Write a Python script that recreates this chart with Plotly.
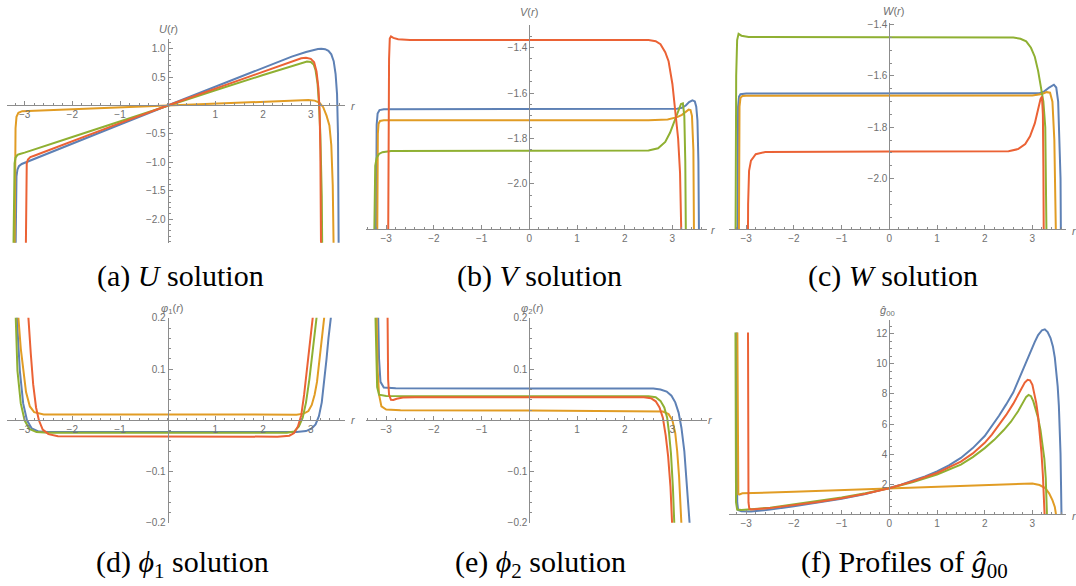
import plotly.graph_objects as go

W, H = 1076, 586
BLUE, ORANGE, GREEN, RED = "#5E81B5", "#E19C24", "#8FB032", "#EB6235"
AXC = "#8c8c8c"
LBC = "#707070"

# ---------------- data: (a) U(r) ----------------
U_blue_r = [-3.19, -3.182, -3.17, -3.15, -3.12, -3.06, -3.0, -2.0, -1.0, 0.0, 1.0, 2.0, 2.6, 2.9, 3.05, 3.15, 3.22, 3.3, 3.37, 3.43, 3.48, 3.52, 3.55, 3.57, 3.585]
U_blue = [-2.6, -1.6, -1.25, -1.13, -1.07, -1.03, -1.01, -0.67, -0.335, 0.0, 0.33, 0.66, 0.86, 0.94, 0.975, 0.995, 1.0, 0.99, 0.96, 0.9, 0.78, 0.55, 0.2, -0.5, -2.6]
U_orange_r = [-3.21, -3.2, -3.19, -3.17, -3.13, -3.05, -2.0, -1.0, 0.0, 1.0, 2.0, 2.8, 2.95, 3.08, 3.18, 3.26, 3.33, 3.39, 3.43, 3.46, 3.48]
U_orange = [-2.6, -1.0, -0.4, -0.2, -0.13, -0.1, -0.065, -0.033, 0.0, 0.033, 0.066, 0.092, 0.095, 0.085, 0.05, -0.03, -0.18, -0.35, -0.7, -1.4, -2.6]
U_green_r = [-3.235, -3.225, -3.21, -3.19, -3.15, -3.1, -3.0, -2.0, -1.0, 0.0, 1.0, 2.0, 2.6, 2.8, 2.92, 3.0, 3.06, 3.1, 3.14, 3.17, 3.2, 3.23, 3.24]
U_green = [-2.6, -1.5, -1.02, -0.92, -0.87, -0.855, -0.83, -0.555, -0.278, 0.0, 0.268, 0.535, 0.7, 0.75, 0.775, 0.765, 0.72, 0.62, 0.4, 0.05, -0.5, -1.6, -2.6]
U_red_r = [-2.975, -2.968, -2.955, -2.93, -2.88, -2.8, -2.0, -1.0, 0.0, 1.0, 2.0, 2.6, 2.8, 2.9, 3.0, 3.07, 3.12, 3.16, 3.185, 3.2, 3.215]
U_red = [-2.6, -1.5, -1.02, -0.95, -0.91, -0.885, -0.625, -0.31, 0.0, 0.3, 0.6, 0.78, 0.83, 0.84, 0.82, 0.76, 0.6, 0.3, -0.1, -0.8, -2.6]

# ---------------- data: (b) V(r) ----------------
V_blue_r = [-3.215, -3.21, -3.2, -3.18, -3.14, -3.05, -2.5, 0.0, 2.5, 2.9, 3.1, 3.2, 3.28, 3.35, 3.42, 3.47, 3.5, 3.525, 3.545, 3.56]
V_blue = [-2.3, -1.95, -1.74, -1.69, -1.675, -1.671, -1.671, -1.671, -1.671, -1.671, -1.669, -1.665, -1.655, -1.64, -1.632, -1.637, -1.66, -1.72, -1.9, -2.3]
V_orange_r = [-3.19, -3.185, -3.175, -3.16, -3.13, -3.05, -2.5, 0.0, 2.5, 2.9, 3.1, 3.2, 3.28, 3.34, 3.38, 3.41, 3.44, 3.455]
V_orange = [-2.3, -1.95, -1.78, -1.735, -1.723, -1.72, -1.72, -1.72, -1.72, -1.716, -1.706, -1.696, -1.683, -1.673, -1.675, -1.7, -1.85, -2.3]
V_green_r = [-3.255, -3.245, -3.23, -3.2, -3.15, -3.08, -2.9, 0.0, 2.5, 2.7, 2.85, 2.95, 3.05, 3.12, 3.18, 3.22, 3.25, 3.27, 3.285]
V_green = [-2.3, -2.0, -1.92, -1.885, -1.868, -1.86, -1.855, -1.854, -1.853, -1.843, -1.815, -1.775, -1.72, -1.675, -1.648, -1.645, -1.7, -1.9, -2.3]
V_red_r = [-2.96, -2.952, -2.94, -2.925, -2.9, -2.85, -2.75, -2.5, 0.0, 2.5, 2.65, 2.75, 2.85, 2.92, 3.0, 3.06, 3.12, 3.16, 3.195]
V_red = [-2.3, -1.8, -1.45, -1.36, -1.351, -1.357, -1.363, -1.366, -1.366, -1.367, -1.372, -1.385, -1.42, -1.46, -1.56, -1.67, -1.8, -1.95, -2.3]

# ---------------- data: (c) W(r) ----------------
W_blue_r = [-3.185, -3.18, -3.17, -3.15, -3.12, -3.0, 0.0, 3.0, 3.15, 3.25, 3.35, 3.45, 3.5, 3.54, 3.57, 3.59, 3.6]
W_blue = [-2.3, -1.9, -1.72, -1.68, -1.671, -1.668, -1.668, -1.668, -1.667, -1.66, -1.645, -1.634, -1.645, -1.7, -1.85, -2.0, -2.3]
W_orange_r = [-3.155, -3.15, -3.14, -3.12, -3.08, -3.0, 0.0, 3.0, 3.2, 3.3, 3.37, 3.42, 3.46, 3.48, 3.5]
W_orange = [-2.3, -1.9, -1.72, -1.685, -1.678, -1.677, -1.677, -1.676, -1.67, -1.663, -1.665, -1.7, -1.85, -2.0, -2.3]
W_green_r = [-3.225, -3.22, -3.21, -3.19, -3.16, -3.1, -2.95, 0.0, 2.6, 2.75, 2.87, 2.97, 3.05, 3.12, 3.18, 3.23, 3.27, 3.29, 3.3]
W_green = [-2.3, -1.9, -1.6, -1.46, -1.436, -1.443, -1.448, -1.449, -1.45, -1.455, -1.465, -1.49, -1.525, -1.58, -1.64, -1.7, -1.8, -2.0, -2.3]
W_red_r = [-2.965, -2.96, -2.94, -2.9, -2.8, -2.6, 0.0, 2.5, 2.7, 2.85, 2.95, 3.05, 3.12, 3.17, 3.2, 3.22, 3.23, 3.24]
W_red = [-2.3, -2.1, -1.97, -1.93, -1.905, -1.896, -1.894, -1.893, -1.885, -1.865, -1.835, -1.785, -1.73, -1.69, -1.68, -1.75, -1.95, -2.3]

# ---------------- data: (d) phi1(r) ----------------
P1_blue_r = [-3.19, -3.15, -3.1, -3.03, -2.95, -2.85, -2.7, -2.5, 0.0, 2.7, 2.9, 3.02, 3.1, 3.17, 3.23, 3.28, 3.33, 3.37, 3.42, 3.45]
P1_blue = [0.3, 0.18, 0.097, 0.033, 0.0, -0.016, -0.022, -0.023, -0.023, -0.023, -0.021, -0.016, -0.008, 0.008, 0.035, 0.075, 0.12, 0.16, 0.2, 0.3]
P1_orange_r = [-3.16, -3.13, -3.08, -3.03, -2.97, -2.89, -2.8, -2.6, 0.0, 2.7, 2.85, 2.95, 3.02, 3.08, 3.13, 3.18, 3.23, 3.28, 3.32]
P1_orange = [0.3, 0.2, 0.14, 0.097, 0.055, 0.027, 0.016, 0.0115, 0.011, 0.011, 0.013, 0.018, 0.03, 0.05, 0.075, 0.115, 0.16, 0.2, 0.3]
P1_green_r = [-3.22, -3.19, -3.15, -3.08, -3.0, -2.9, -2.75, -2.5, 0.0, 2.5, 2.65, 2.75, 2.83, 2.9, 2.97, 3.03, 3.08, 3.12, 3.16]
P1_green = [0.3, 0.2, 0.097, 0.033, 0.0, -0.017, -0.023, -0.0243, -0.0243, -0.0243, -0.022, -0.012, 0.005, 0.035, 0.08, 0.13, 0.17, 0.2, 0.3]
P1_red_r = [-2.95, -2.92, -2.87, -2.82, -2.76, -2.7, -2.62, -2.5, -2.3, 0.0, 2.3, 2.55, 2.65, 2.73, 2.8, 2.86, 2.92, 2.98, 3.04, 3.08]
P1_red = [0.3, 0.2, 0.13, 0.07, 0.025, 0.0, -0.018, -0.027, -0.031, -0.032, -0.032, -0.03, -0.025, -0.012, 0.01, 0.05, 0.1, 0.15, 0.2, 0.3]

# ---------------- data: (e) phi2(r) ----------------
P2_blue_r = [-3.19, -3.17, -3.15, -3.12, -3.05, -2.8, 0.0, 2.6, 2.75, 2.88, 2.98, 3.06, 3.13, 3.19, 3.25, 3.31, 3.36, 3.4]
P2_blue = [0.3, 0.2, 0.12, 0.075, 0.064, 0.0625, 0.0622, 0.062, 0.06, 0.056, 0.048, 0.035, 0.015, -0.015, -0.06, -0.13, -0.2, -0.3]
P2_orange_r = [-3.22, -3.2, -3.18, -3.15, -3.1, -3.0, -2.7, 0.0, 2.6, 2.8, 2.92, 3.0, 3.06, 3.1, 3.14, 3.18, 3.21, 3.24]
P2_orange = [0.3, 0.2, 0.1, 0.05, 0.027, 0.021, 0.0195, 0.019, 0.0185, 0.017, 0.012, 0.0, -0.025, -0.06, -0.11, -0.16, -0.2, -0.3]
P2_green_r = [-3.25, -3.23, -3.21, -3.19, -3.15, -3.0, 0.0, 2.5, 2.65, 2.75, 2.83, 2.89, 2.93, 2.97, 3.01, 3.05, 3.08]
P2_green = [0.3, 0.2, 0.1, 0.065, 0.05, 0.0475, 0.047, 0.047, 0.045, 0.038, 0.025, 0.005, -0.025, -0.065, -0.13, -0.2, -0.3]
P2_red_r = [-2.98, -2.97, -2.96, -2.94, -2.9, -2.85, -2.78, -2.65, -2.4, 0.0, 2.4, 2.55, 2.65, 2.73, 2.8, 2.86, 2.91, 2.96, 3.01, 3.04]
P2_red = [0.3, 0.15, 0.08, 0.05, 0.04, 0.0395, 0.042, 0.0445, 0.045, 0.045, 0.045, 0.043, 0.037, 0.025, 0.005, -0.03, -0.07, -0.13, -0.2, -0.3]

# ---------------- data: (f) g00 hat ----------------
G_blue_r = [-3.2, -3.195, -3.188, -3.17, -3.1, -2.9, -2.5, -2.0, -1.5, -1.0, -0.5, 0.0, 0.25, 0.5, 0.75, 1.0, 1.25, 1.5, 1.75, 2.0, 2.15, 2.3, 2.45, 2.6, 2.72, 2.85, 2.95, 3.05, 3.12, 3.2, 3.26, 3.32, 3.38, 3.43, 3.47, 3.5, 3.53, 3.555, 3.575, 3.59, 3.6, 3.607, 3.612]
G_blue = [12.07, 4.0, 0.8, 0.3, 0.22, 0.2, 0.32, 0.55, 0.78, 1.04, 1.35, 1.74, 1.98, 2.25, 2.52, 2.85, 3.25, 3.75, 4.4, 5.2, 5.85, 6.55, 7.3, 8.1, 9.0, 10.0, 10.75, 11.45, 11.9, 12.22, 12.28, 12.1, 11.7, 11.15, 10.4, 9.6, 8.5, 7.2, 5.6, 4.0, 2.0, 0.5, -0.5]
G_orange_r = [-3.185, -3.18, -3.175, -3.165, -3.14, -3.08, -2.0, -1.0, 0.0, 1.0, 2.0, 2.8, 3.0, 3.15, 3.27, 3.35, 3.42, 3.47, 3.5, 3.52]
G_orange = [12.07, 4.0, 1.8, 1.35, 1.33, 1.4, 1.5, 1.61, 1.72, 1.83, 1.95, 2.06, 2.05, 1.95, 1.75, 1.4, 0.95, 0.5, 0.05, -0.5]
G_green_r = [-3.225, -3.22, -3.213, -3.19, -3.1, -2.5, -2.0, -1.5, -1.0, -0.5, 0.0, 0.5, 1.0, 1.5, 1.75, 2.0, 2.2, 2.4, 2.55, 2.7, 2.8, 2.87, 2.92, 2.97, 3.02, 3.07, 3.12, 3.17, 3.21, 3.25, 3.28, 3.3, 3.31]
G_green = [12.07, 4.0, 0.8, 0.33, 0.3, 0.45, 0.68, 0.88, 1.12, 1.4, 1.74, 2.15, 2.65, 3.3, 3.8, 4.4, 4.95, 5.6, 6.15, 6.85, 7.4, 7.8, 7.93, 7.85, 7.5, 7.0, 6.4, 5.6, 4.8, 3.7, 2.4, 1.0, -0.5]
G_red_r = [-2.962, -2.958, -2.952, -2.935, -2.9, -2.5, -2.0, -1.5, -1.0, -0.5, 0.0, 0.5, 1.0, 1.5, 1.75, 2.0, 2.15, 2.3, 2.45, 2.6, 2.7, 2.78, 2.84, 2.9, 2.95, 3.0, 3.04, 3.08, 3.12, 3.16, 3.19, 3.22, 3.24, 3.255, 3.262]
G_red = [12.07, 4.0, 0.8, 0.38, 0.33, 0.42, 0.62, 0.83, 1.08, 1.38, 1.74, 2.2, 2.75, 3.5, 4.05, 4.75, 5.3, 5.95, 6.6, 7.35, 7.9, 8.4, 8.75, 8.93, 8.9, 8.6, 8.1, 7.4, 6.5, 5.3, 4.1, 2.6, 1.3, 0.2, -0.5]

# tick labels
X_TICKS_NO0 = [-3, -2, -1, 1, 2, 3]
X_TICKS_ALL = [-3, -2, -1, 0, 1, 2, 3]
U_TICKS = [-2.0, -1.5, -1.0, -0.5, 0.5, 1.0]
VW_TICKS = [-2.0, -1.8, -1.6, -1.4]
PHI_TICKS = [-0.2, -0.1, 0.1, 0.2]
G_TICKS = [2, 4, 6, 8, 10, 12]


def fmt(v, nd):
    s = f"{abs(v):.{nd}f}"
    return ("\u2212" + s) if v < 0 else s


panels = [
    dict(series=[(U_blue_r, U_blue), (U_orange_r, U_orange), (U_green_r, U_green), (U_red_r, U_red)],
         xpx=(7, 345), ypx=(35, 242), x0px=167.7, xs=47.7, y0px=102.2, ys=57.8, ycross=0.0,
         xt=X_TICKS_NO0, yt=U_TICKS, ynd=1, xminor=0.2, yminor=0.1,
         ylab="<i>U</i>(<i>r</i>)", ylabpos=(168, 24), rpos=(353, 103),
         cap="(a) <i>U</i> solution", cappos=(181, 276)),
    dict(series=[(V_blue_r, V_blue), (V_orange_r, V_orange), (V_green_r, V_green), (V_red_r, V_red)],
         xpx=(366, 706.7), ypx=(20.7, 228.3), x0px=529.3, xs=47.7, yr=(-2.2, -1.302), ycross=None,
         xt=X_TICKS_ALL, yt=VW_TICKS, ynd=1, xminor=0.2, yminor=0.05,
         ylab="<i>V</i>(<i>r</i>)", ylabpos=(529, 7), rpos=(713, 229),
         cap="(b) <i>V</i> solution", cappos=(539, 276)),
    dict(series=[(W_blue_r, W_blue), (W_orange_r, W_orange), (W_green_r, W_green), (W_red_r, W_red)],
         xpx=(729.3, 1066), ypx=(18.3, 228.3), x0px=889.3, xs=47.7, yr=(-2.198, -1.3935), ycross=None,
         xt=X_TICKS_ALL, yt=VW_TICKS, ynd=1, xminor=0.2, yminor=0.05,
         ylab="<i>W</i>(<i>r</i>)", ylabpos=(893, 6), rpos=(1074, 230),
         cap="(c) <i>W</i> solution", cappos=(893, 276)),
    dict(series=[(P1_blue_r, P1_blue), (P1_orange_r, P1_orange), (P1_green_r, P1_green), (P1_red_r, P1_red)],
         xpx=(7, 345), ypx=(318.3, 526.7), x0px=167.7, xs=47.7, yr=(-0.2, 0.2), ycross=0.0,
         xt=X_TICKS_NO0, yt=PHI_TICKS, ynd=1, xminor=0.2, yminor=0.02,
         ylab="<i>φ</i><sub>1</sub>(<i>r</i>)", ylabpos=(172, 309), rpos=(353, 422),
         cap="(d) <i>ϕ</i><sub>1</sub> solution", cappos=(182, 569)),
    dict(series=[(P2_blue_r, P2_blue), (P2_orange_r, P2_orange), (P2_green_r, P2_green), (P2_red_r, P2_red)],
         xpx=(366, 706.7), ypx=(318.3, 526.7), x0px=529.3, xs=47.7, yr=(-0.2, 0.2), ycross=0.0,
         xt=X_TICKS_NO0, yt=PHI_TICKS, ynd=1, xminor=0.2, yminor=0.02,
         ylab="<i>φ</i><sub>2</sub>(<i>r</i>)", ylabpos=(532, 309), rpos=(710, 422),
         cap="(e) <i>ϕ</i><sub>2</sub> solution", cappos=(540, 569)),
    dict(series=[(G_blue_r, G_blue), (G_orange_r, G_orange), (G_green_r, G_green), (G_red_r, G_red)],
         xpx=(729.3, 1066), ypx=(320, 518.3), x0px=889.3, xs=47.7, yr=(0.0, 12.93), ycross=0.0,
         xt=X_TICKS_ALL, yt=G_TICKS, ynd=0, xminor=0.2, yminor=0.5,
         ylab="<i>ĝ</i><sub>00</sub>", ylabpos=(887, 311), rpos=(1074, 520),
         cap="(f) Profiles of <i>ĝ</i><sub>00</sub>", cappos=(904, 569)),
]

COLORS = [BLUE, ORANGE, GREEN, RED]

fig = go.Figure()
annotations = []
layout_axes = {}

for i, p in enumerate(panels, start=1):
    xr = ((p["xpx"][0] - p["x0px"]) / p["xs"], (p["xpx"][1] - p["x0px"]) / p["xs"])
    if "yr" in p:
        yr = p["yr"]
    else:
        yr = ((p["y0px"] - p["ypx"][1]) / p["ys"], (p["y0px"] - p["ypx"][0]) / p["ys"])
    xd = [p["xpx"][0] / W, p["xpx"][1] / W]
    yd = [1 - p["ypx"][1] / H, 1 - p["ypx"][0] / H]
    yc = yr[0] if p["ycross"] is None else p["ycross"]
    xpos = yd[0] + (yc - yr[0]) / (yr[1] - yr[0]) * (yd[1] - yd[0])
    ypos = xd[0] + (0 - xr[0]) / (xr[1] - xr[0]) * (xd[1] - xd[0])

    xa = "x" if i == 1 else f"x{i}"
    ya = "y" if i == 1 else f"y{i}"
    for (rs, vs), c in zip(p["series"], COLORS):
        fig.add_trace(go.Scatter(x=rs, y=vs, mode="lines", line=dict(color=c, width=2),
                                 xaxis=xa, yaxis=ya, showlegend=False, hoverinfo="skip"))

    common = dict(showline=True, linecolor=AXC, linewidth=1, ticks="inside", ticklen=4,
                  tickcolor=AXC, tickwidth=1, showgrid=False, zeroline=False,
                  tickfont=dict(family="Liberation Sans, Arial, sans-serif", size=10, color=LBC),
                  anchor="free", fixedrange=True, tickmode="array")
    layout_axes["xaxis" if i == 1 else f"xaxis{i}"] = dict(
        common, domain=xd, range=list(xr), position=xpos,
        tickvals=p["xt"], ticktext=[fmt(v, 0) for v in p["xt"]],
        minor=dict(ticks="inside", ticklen=2, tickcolor=AXC, tickwidth=1, dtick=p["xminor"], tick0=0, showgrid=False))
    layout_axes["yaxis" if i == 1 else f"yaxis{i}"] = dict(
        common, domain=yd, range=list(yr), position=ypos,
        tickvals=p["yt"], ticktext=[fmt(v, p["ynd"]) for v in p["yt"]],
        minor=dict(ticks="inside", ticklen=2, tickcolor=AXC, tickwidth=1, dtick=p["yminor"], tick0=0, showgrid=False))

    annotations.append(dict(text=p["ylab"], x=p["ylabpos"][0] / W, y=1 - p["ylabpos"][1] / H,
                            xref="paper", yref="paper", showarrow=False, xanchor="center", yanchor="middle",
                            font=dict(family="Liberation Sans, Arial, sans-serif", size=11, color=LBC)))
    annotations.append(dict(text="<i>r</i>", x=p["rpos"][0] / W, y=1 - p["rpos"][1] / H,
                            xref="paper", yref="paper", showarrow=False, xanchor="center", yanchor="middle",
                            font=dict(family="Liberation Sans, Arial, sans-serif", size=11, color=LBC)))
    annotations.append(dict(text=p["cap"], x=p["cappos"][0] / W, y=1 - p["cappos"][1] / H,
                            xref="paper", yref="paper", showarrow=False, xanchor="center", yanchor="middle",
                            font=dict(family="Liberation Serif, Times New Roman, serif", size=30, color="#000000")))

fig.update_layout(width=W, height=H, margin=dict(l=0, r=0, t=0, b=0),
                  paper_bgcolor="white", plot_bgcolor="white",
                  annotations=annotations, **layout_axes)

fig.write_html("out.html", config={"displayModeBar": False, "staticPlot": True},
               post_script="document.body.style.margin='0';document.body.style.padding='0';document.body.style.overflow='hidden';")
